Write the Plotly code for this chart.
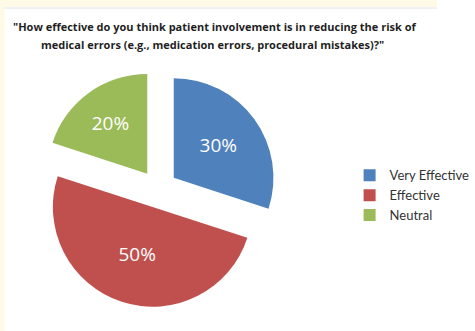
import plotly.graph_objects as go

categories = ["Very Effective", "Effective", "Neutral"]
values = [30, 50, 20]
colors = ["#4F81BD", "#C0504D", "#9BBB59"]
title_lines = ['"How effective do you think patient involvement is in reducing the risk of',
               'medical errors (e.g., medication errors, procedural mistakes)?"']

W, H = 475, 331

fig = go.Figure(go.Pie(
    labels=categories,
    values=values,
    marker=dict(colors=colors, line=dict(width=0)),
    sort=False,
    direction="clockwise",
    rotation=0,
    pull=[0.19, 0.19, 0.19],
    textinfo="percent",
    texttemplate="%{percent:.0%}",
    textposition="inside",
    insidetextorientation="horizontal",
    textfont=dict(family="Open Sans", size=19, color="white"),
    domain=dict(x=[0.091, 0.634], y=[0.039, 0.819]),
    hoverinfo="label+percent",
))

fig.update_layout(
    width=W, height=H,
    margin=dict(l=0, r=0, t=0, b=0),
    paper_bgcolor="white",
    plot_bgcolor="white",
    showlegend=True,
    legend=dict(x=0.80, y=0.41, xanchor="left", yanchor="middle",
                font=dict(family="Lato", size=13, color="#333333"),
                itemwidth=30, tracegroupgap=0),
    annotations=[
        dict(text="<b>" + title_lines[0] + "</b>",
             x=12 / W, y=1 - 26 / H, xref="paper", yref="paper",
             showarrow=False, xanchor="left", yanchor="middle",
             font=dict(family="Open Sans", size=11, color="#1f1f1f")),
        dict(text="<b>" + title_lines[1] + "</b>",
             x=42 / W, y=1 - 44 / H, xref="paper", yref="paper",
             showarrow=False, xanchor="left", yanchor="middle",
             font=dict(family="Open Sans", size=11, color="#1f1f1f")),
    ],
    shapes=[
        dict(type="rect", xref="paper", yref="paper", x0=0, x1=1, y0=1 - 7 / H, y1=1,
             fillcolor="#FFFAE6", line=dict(width=0), layer="below"),
        dict(type="rect", xref="paper", yref="paper", x0=0, x1=5 / W, y0=0, y1=1,
             fillcolor="#FFFAE6", line=dict(width=0), layer="below"),
        dict(type="line", xref="paper", yref="paper", x0=5 / W, x1=1, y0=1 - 8 / H, y1=1 - 8 / H,
             line=dict(color="#DDE3EA", width=1), layer="below"),
    ],
)

fig.write_html("out.html")
